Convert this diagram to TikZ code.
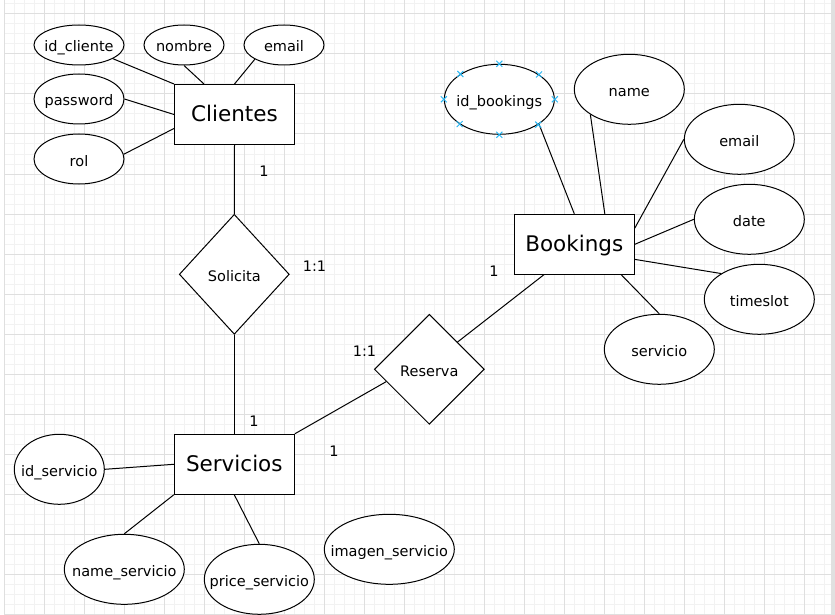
\documentclass[tikz,border=0pt]{standalone}
\usepackage{fontspec}
\setmainfont{DejaVu Sans}
\usetikzlibrary{shapes.geometric,shapes.misc}
\definecolor{gridminor}{HTML}{F2F2F2}
\definecolor{gridmajor}{HTML}{DFDFDF}
\definecolor{selblue}{HTML}{29B6F2}
\newcommand\zw[1]{\makebox[0pt]{#1}}
\begin{document}
\begin{tikzpicture}[x=1pt,y=-1pt,
  attr/.style={draw=black, fill=white, ellipse, inner sep=0pt, line width=1pt,
    text height=15pt, text depth=1pt,
    font=\fontsize{14.5}{17}\selectfont},
  entity/.style={draw=black, fill=white, rectangle, minimum width=120pt, minimum height=60pt,
    inner sep=0pt, line width=1pt, text height=16pt, text depth=1.5pt,
    font=\fontsize{21.5}{25}\selectfont},
  rel/.style={draw=black, fill=white, diamond, inner sep=0pt, line width=1pt,
    text height=15pt, text depth=1pt,
    font=\fontsize{14.5}{17}\selectfont},
  card/.style={inner sep=0pt, font=\fontsize{14.5}{17}\selectfont},
  link/.style={line width=1pt},
  selmark/.style={cross out, draw=selblue, line width=1pt, minimum size=5pt, inner sep=0pt}
]
\useasboundingbox (0,0) rectangle (835,615);
% background grid
\fill[white] (0,0) rectangle (835,615);
\foreach \x in {4,14,...,830} \draw[gridminor, line width=1pt] (\x,0) -- (\x,614);
\foreach \y in {4,14,...,614} \draw[gridminor, line width=1pt] (4,\y) -- (831,\y);
\foreach \x in {4,44,...,830} \draw[gridmajor, line width=1pt] (\x,0) -- (\x,614);
\foreach \y in {14,54,...,614} \draw[gridmajor, line width=1pt] (4,\y) -- (831,\y);
\fill[black!12] (831,0) rectangle (835,615);

% entities
\node[entity] (cli) at (234.5,114.5) {Clientes};
\node[entity] (sv) at (234.3,464.3) {Servicios};
\node[entity] (bk) at (574.3,244.3) {Bookings};

% relationships
\node[rel, minimum width=110pt, minimum height=120pt] (sol) at (234.3,274.3) {\zw{Solicita}};
\node[rel, minimum width=110pt, minimum height=110pt] (res) at (429.3,369.3) {\zw{Reserva}};

% Clientes attributes
\node[attr, minimum width=90pt, minimum height=40pt] (idc) at (79,45) {\zw{id\_cliente}};
\node[attr, minimum width=80pt, minimum height=40pt] (nom) at (184,45) {\zw{nombre}};
\node[attr, minimum width=80pt, minimum height=40pt] (em) at (284,45) {\zw{email}};
\node[attr, minimum width=90pt, minimum height=50pt] (pw) at (79,99) {\zw{password}};
\node[attr, minimum width=90pt, minimum height=50pt] (rol) at (79,159) {\zw{rol}};

% Bookings attributes
\node[attr, minimum width=110pt, minimum height=70pt] (idb) at (499.3,99.3) {\zw{id\_bookings}};
\node[attr, minimum width=110pt, minimum height=70pt] (nm) at (629.3,89.3) {\zw{name}};
\node[attr, minimum width=110pt, minimum height=70pt] (em2) at (739.3,139.3) {\zw{email}};
\node[attr, minimum width=110pt, minimum height=70pt] (dt) at (749.3,219.3) {\zw{date}};
\node[attr, minimum width=110pt, minimum height=70pt] (ts) at (759.3,299.3) {\zw{timeslot}};
\node[attr, minimum width=110pt, minimum height=70pt] (srv) at (659.3,349.3) {\zw{servicio}};

% Servicios attributes
\node[attr, minimum width=90pt, minimum height=70pt] (ids) at (59.3,469.3) {\zw{id\_servicio}};
\node[attr, minimum width=120pt, minimum height=70pt] (ns) at (124.3,569.3) {\zw{name\_servicio}};
\node[attr, minimum width=110pt, minimum height=70pt] (ps) at (259.3,579.3) {\zw{price\_servicio}};
\node[attr, minimum width=130pt, minimum height=70pt] (is) at (389.3,549.3) {\zw{imagen\_servicio}};

% connectors
\draw[link] (idc.-22) -- (cli.north west);
\draw[link] (nom.south) -- (cli.135);
\draw[link] (em.206.6) -- (cli.north);
\draw[link] (pw.east) -- (cli.west);
\draw[link] (rol.6.5) -- (cli.193.5);
\draw[link] (cli.south) -- (sol.north);
\draw[link] (sol.south) -- (sv.north);
\draw[link] (sv.north east) -- (res.196);
\draw[link] (res.44) -- (bk.225);
\draw[link] (idb.-32.4) -- (bk.north);
\draw[link] (nm.213.1) -- (bk.45);
\draw[link] (em2.west) -- (bk.15);
\draw[link] (dt.west) -- (bk.east);
\draw[link] (ts.146.9) -- (bk.-14);
\draw[link] (srv.north) -- (bk.-33.7);
\draw[link] (ids.east) -- (sv.west);
\draw[link] (ns.north) -- (sv.south west);
\draw[link] (ps.north) -- (sv.south);

% selection markers on id_bookings
\foreach \a [count=\i] in {0,32.4,90,147.6,180,212.4,270,327.6}
  \node[selmark] (m\i) at (idb.\a) {};

% cardinalities
\node[card] (c1) at (264,171) {1};
\node[card] (c2) at (314.5,266) {1:1};
\node[card] (c3) at (494,271) {1};
\node[card] (c4) at (364.5,351) {1:1};
\node[card] (c5) at (254,421) {1};
\node[card] (c6) at (334,451) {1};
\end{tikzpicture}
\end{document}
